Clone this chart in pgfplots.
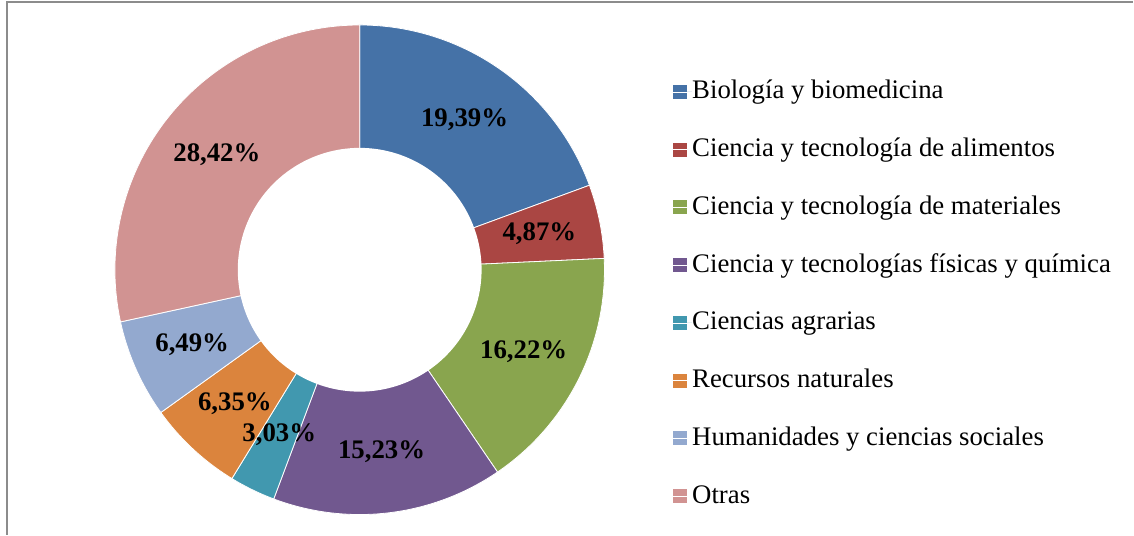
\documentclass[border=0pt]{standalone}
\usepackage{fontspec}
\setmainfont{Liberation Serif}
\usepackage{pgfplots}
\pgfplotsset{compat=1.18}

% colours of the slices
\definecolor{cBio}{HTML}{4572A7}
\definecolor{cAli}{HTML}{AA4643}
\definecolor{cMat}{HTML}{89A54E}
\definecolor{cFis}{HTML}{71588F}
\definecolor{cAgr}{HTML}{4198AF}
\definecolor{cRec}{HTML}{DB843D}
\definecolor{cHum}{HTML}{93A9CF}
\definecolor{cOtr}{HTML}{D19392}
\definecolor{frame}{HTML}{8C8C8C}

\def\Rout{245}
\def\Rin{122}
\def\cum{0}
% #1 value (%), #2 colour, #3 legend text, #4 label text
\newcommand\slice[4]{%
  \pgfmathsetmacro\aStart{90-3.6*\cum}%
  \pgfmathsetmacro\aEnd{90-3.6*(\cum+#1)}%
  \pgfmathsetmacro\aMid{(\aStart+\aEnd)/2}%
  \pgfmathsetmacro\rMid{(\Rout+\Rin)/2}%
  \pgfmathsetmacro\newcum{\cum+#1}%
  \global\let\cum\newcum
  \edef\doplot{\noexpand\addplot[fill=#2, draw=white, line width=0.4pt,
    domain=\aEnd:\aStart, samples=90, data cs=polar] {\Rout}
    -- (axis cs:0,0) -- cycle;}%
  \doplot
  \addlegendentry{#3}%
  \xdef\labelcoords{\labelcoords (\aMid,\rMid) [#4]}%
}
\def\labelcoords{}

\begin{document}
\begin{tikzpicture}
\begin{axis}[
    x=0.5pt, y=0.5pt,
    xmin=-360, xmax=774, ymin=-265, ymax=270,
    hide axis,
    clip=false,
    legend cell align=left,
    legend style={
        at={(axis cs:313,191)}, anchor=north west,
        draw=none, fill=none, inner sep=0pt, outer sep=0pt,
        font=\fontsize{13.4}{16}\selectfont,
        row sep=15.9pt,
        nodes={text height=10pt, text depth=3pt, inner sep=0pt},
    },
    legend image code/.code={%
        \fill[#1, draw=none] (0pt,-3.5pt) rectangle (7pt,3.5pt);
        \path (0pt,0pt) -- (9.5pt,0pt);
    },
]
\slice{19.39}{cBio}{Biología y biomedicina}{19,39\%}
\slice{4.87}{cAli}{Ciencia y tecnología de alimentos}{4,87\%}
\slice{16.22}{cMat}{Ciencia y tecnología de materiales}{16,22\%}
\slice{15.23}{cFis}{Ciencia y tecnologías físicas y química}{15,23\%}
\slice{3.03}{cAgr}{Ciencias agrarias}{3,03\%}
\slice{6.35}{cRec}{Recursos naturales}{6,35\%}
\slice{6.49}{cHum}{Humanidades y ciencias sociales}{6,49\%}
\slice{28.42}{cOtr}{Otras}{28,42\%}

% hole of the donut
\addplot[fill=white, draw=none, domain=0:360, samples=180, data cs=polar, forget plot] {\Rin};

% data labels
\edef\dolabels{\noexpand\addplot[draw=none, mark=none, data cs=polar, forget plot,
    nodes near coords, point meta=explicit symbolic,
    nodes near coords style={anchor=center, font=\noexpand\fontsize{13.4}{16}\noexpand\selectfont\noexpand\bfseries}]
    coordinates {\labelcoords};}
\dolabels

% frame
\draw[frame, line width=1pt] (axis cs:-353,-265) -- (axis cs:-353,268) -- (axis cs:774,268);
\path (axis cs:-360,-265) rectangle (axis cs:774,270);
\end{axis}
\end{tikzpicture}
\end{document}
